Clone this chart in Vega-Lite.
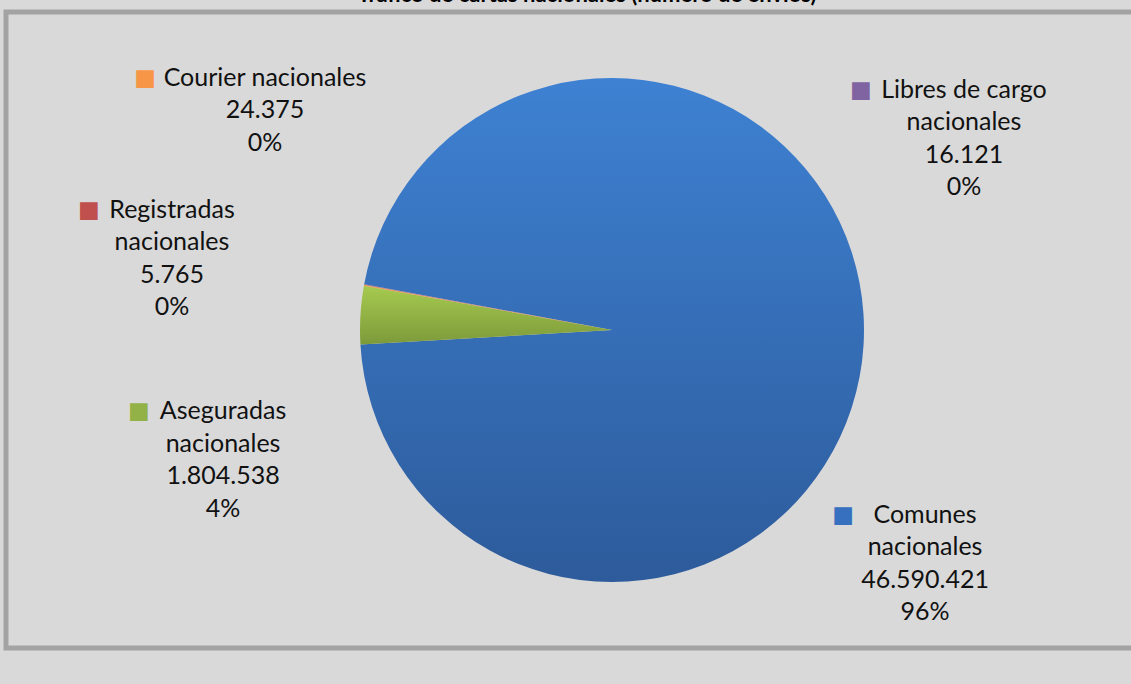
{
  "$schema": "https://vega.github.io/schema/vega-lite/v6.json",
  "autosize": {"type": "none"},
  "width": 1212,
  "height": 636,
  "padding": {"left": 6, "top": 12, "right": -87, "bottom": 36},
  "background": "#d9d9d9",
  "view": {"fill": "#d9d9d9", "stroke": "#a3a3a3", "strokeWidth": 5},
  "title": {
    "text": "Tráfico de cartas nacionales (número de envíos)",
    "font": "Lato",
    "fontSize": 22,
    "fontWeight": "bold",
    "color": "#000000",
    "anchor": "middle",
    "offset": 5,
    "dx": -25
  },
  "data": {
    "values": [
      {"categoria": "Comunes nacionales", "valor": 46590421, "orden": 1, "etiqueta": ["Comunes", "nacionales", "46.590.421", "96%"]},
      {"categoria": "Aseguradas nacionales", "valor": 1804538, "orden": 2, "etiqueta": ["Aseguradas", "nacionales", "1.804.538", "4%"]},
      {"categoria": "Registradas nacionales", "valor": 5765, "orden": 3, "etiqueta": ["Registradas", "nacionales", "5.765", "0%"]},
      {"categoria": "Courier nacionales", "valor": 24375, "orden": 4, "etiqueta": ["Courier nacionales", "24.375", "0%"]},
      {"categoria": "Libres de cargo nacionales", "valor": 16121, "orden": 5, "etiqueta": ["Libres de cargo", "nacionales", "16.121", "0%"]}
    ]
  },
  "layer": [
    {
      "mark": {"type": "arc", "outerRadius": 252, "strokeWidth": 0},
      "encoding": {
        "theta": {"field": "valor", "type": "quantitative", "stack": true, "scale": {"range": [4.8946, 11.1778]}},
        "order": {"field": "orden", "type": "quantitative"},
        "color": {
          "condition": [
            {"test": "datum.categoria === 'Comunes nacionales'", "value": {"gradient": "linear", "x1": 0, "y1": 0, "x2": 0, "y2": 1, "stops": [{"offset": 0, "color": "#3e81d2"}, {"offset": 1, "color": "#2d5b9b"}]}},
            {"test": "datum.categoria === 'Aseguradas nacionales'", "value": {"gradient": "linear", "x1": 0, "y1": 0, "x2": 0, "y2": 1, "stops": [{"offset": 0, "color": "#a6ca50"}, {"offset": 1, "color": "#7d9a3a"}]}}
          ],
          "field": "categoria",
          "type": "nominal",
          "scale": {
            "domain": ["Comunes nacionales", "Aseguradas nacionales", "Registradas nacionales", "Courier nacionales", "Libres de cargo nacionales"],
            "range": ["#3670bf", "#92b147", "#c0504d", "#f79646", "#8064a2"]
          },
          "legend": null
        }
      }
    },
    {
      "mark": {"type": "text", "font": "Lato", "fontSize": 25, "lineHeight": 32.5, "align": "center", "baseline": "middle", "color": "#111111"},
      "encoding": {
        "theta": {"field": "orden", "type": "quantitative", "stack": null, "scale": {"type": "linear", "domain": [1, 2, 3, 4, 5], "range": [2.1045, 4.5070, 4.9788, 5.3405, 7.2555]}},
        "radius": {"field": "orden", "type": "quantitative", "scale": {"type": "linear", "zero": false, "domain": [1, 2, 3, 4, 5], "range": [363.6, 397.3, 456.1, 428.9, 426.0]}},
        "text": {"field": "etiqueta"}
      }
    },
    {
      "mark": {"type": "text", "font": "DejaVu Sans", "fontSize": 23, "align": "center", "baseline": "middle", "text": "■"},
      "encoding": {
        "theta": {"field": "orden", "type": "quantitative", "stack": null, "scale": {"type": "linear", "domain": [1, 2, 3, 4, 5], "range": [2.2463, 4.5431, 4.9375, 5.2081, 7.0869]}},
        "radius": {"field": "orden", "type": "quantitative", "scale": {"type": "linear", "zero": false, "domain": [1, 2, 3, 4, 5], "range": [296, 479.9, 536.6, 530.7, 345.8]}},
        "color": {"field": "categoria", "type": "nominal", "legend": null}
      }
    }
  ],
  "resolve": {"scale": {"theta": "independent", "radius": "independent"}}
}
